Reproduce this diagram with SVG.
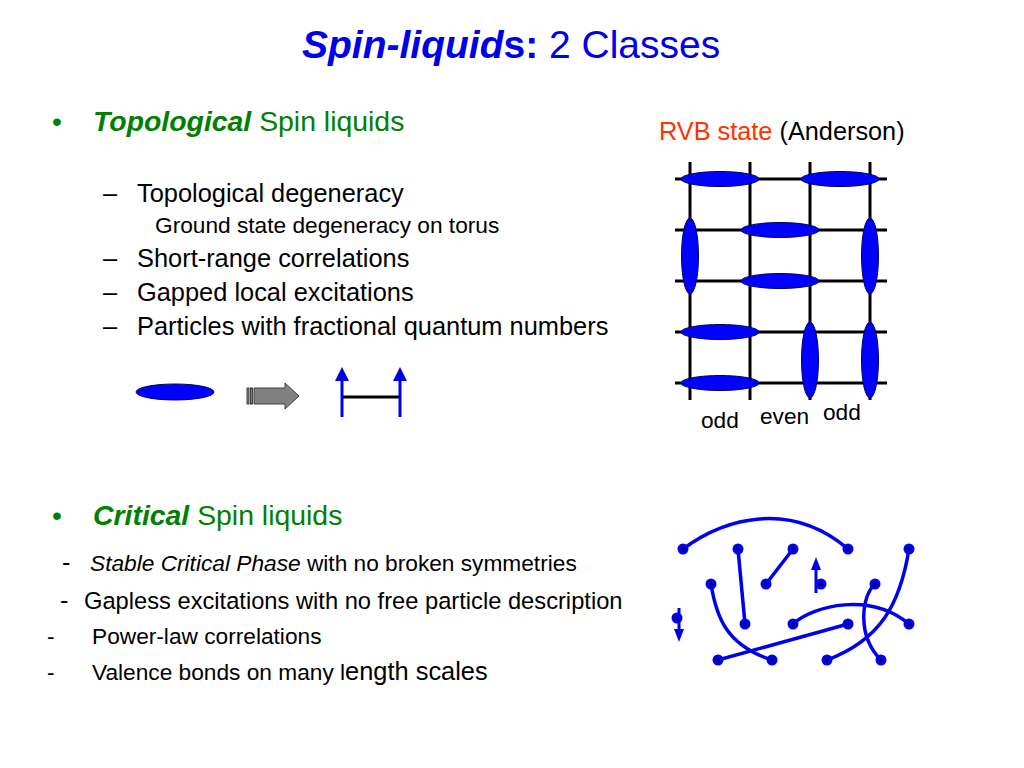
<svg xmlns="http://www.w3.org/2000/svg" width="1024" height="768" viewBox="0 0 1024 768">
<style>
text{font-family:"Liberation Sans",Arial,sans-serif}
.t{fill:#0000ee}
.g{fill:#008000}
.k{fill:#000}
.l1{font-size:28.4px}
.l2{font-size:25.4px}
.l3{font-size:22.7px}
.bi{font-weight:bold;font-style:italic}
.grid{stroke:#000;stroke-width:3;fill:none}
.dimer{fill:#0000ff;stroke:#000066;stroke-width:1}
.bond{stroke:#0000ee;stroke-width:3.5;fill:none;stroke-linecap:round}
.site{fill:#0000ee}
.core{fill:#000}
.spin{stroke:#0000ee;stroke-width:3;fill:none}
.head{fill:#0000ee}
</style>
<rect width="1024" height="768" fill="#fff"/>

<g id="title">
<text x="302" y="58" font-size="39" class="t"><tspan class="bi">Spin-liquid</tspan><tspan font-weight="bold">s:</tspan> 2 Classes</text>
</g>

<g id="topological-text">
<text x="52" y="131" class="l1 g">•</text>
<text x="93" y="131" class="l1 g"><tspan class="bi">Topological</tspan> Spin liquids</text>
<text x="103" y="202" class="l2 k">–</text>
<text x="137" y="202" class="l2 k">Topological degeneracy</text>
<text x="155" y="233" class="l3 k">Ground state degeneracy on torus</text>
<text x="103" y="267" class="l2 k">–</text>
<text x="137" y="267" class="l2 k">Short-range correlations</text>
<text x="103" y="301" class="l2 k">–</text>
<text x="137" y="301" class="l2 k">Gapped local excitations</text>
<text x="103" y="335" class="l2 k">–</text>
<text x="137" y="335" class="l2 k">Particles with fractional quantum numbers</text>
</g>

<g id="dimer-to-singlet">
<ellipse cx="175" cy="392" rx="39" ry="8" class="dimer"/>
<g id="gray-arrow" fill="#808080" stroke="#404040" stroke-width="1">
<rect x="247" y="388" width="2" height="16"/>
<rect x="250.5" y="388" width="2" height="16"/>
<path d="M254,388 H285 V383 L299,396 L285,409 V404 H254 Z"/>
</g>
<line x1="342" y1="397" x2="400" y2="397" stroke="#000" stroke-width="3"/>
<line x1="342" y1="417" x2="342" y2="378" class="spin"/>
<polygon points="342,367 335,381 349,381" class="head"/>
<line x1="400" y1="417" x2="400" y2="378" class="spin"/>
<polygon points="400,367 393,381 407,381" class="head"/>
</g>

<g id="rvb">
<text x="659" y="140" font-size="25.3"><tspan fill="#ff3300">RVB state</tspan> <tspan fill="#000">(Anderson)</tspan></text>
<g id="lattice" class="grid">
<line x1="675" y1="179" x2="887" y2="179"/>
<line x1="675" y1="230" x2="887" y2="230"/>
<line x1="675" y1="281" x2="887" y2="281"/>
<line x1="675" y1="332" x2="887" y2="332"/>
<line x1="675" y1="383" x2="887" y2="383"/>
<line x1="690" y1="162" x2="690" y2="400"/>
<line x1="750" y1="162" x2="750" y2="400"/>
<line x1="810" y1="162" x2="810" y2="400"/>
<line x1="870" y1="162" x2="870" y2="400"/>
</g>
<g id="dimers">
<ellipse cx="720" cy="179" rx="39" ry="7.5" class="dimer"/>
<ellipse cx="840" cy="179" rx="39" ry="7.5" class="dimer"/>
<ellipse cx="780" cy="230" rx="39" ry="7.5" class="dimer"/>
<ellipse cx="780" cy="281" rx="39" ry="7.5" class="dimer"/>
<ellipse cx="720" cy="332" rx="39" ry="7.5" class="dimer"/>
<ellipse cx="720" cy="383" rx="39" ry="7.5" class="dimer"/>
<ellipse cx="690" cy="256" rx="8.5" ry="38" class="dimer"/>
<ellipse cx="870" cy="256" rx="8.5" ry="38" class="dimer"/>
<ellipse cx="810" cy="360" rx="8.5" ry="38" class="dimer"/>
<ellipse cx="870" cy="360" rx="8.5" ry="38" class="dimer"/>
</g>
<text x="701" y="428" class="l3 k">odd</text>
<text x="760" y="424" class="l3 k">even</text>
<text x="823" y="420" class="l3 k">odd</text>
</g>

<g id="critical-text">
<text x="52" y="525" class="l1 g">•</text>
<text x="93" y="525" class="l1 g"><tspan class="bi">Critical</tspan> Spin liquids</text>
<text x="62" y="571" class="l2 k">-</text>
<text x="90" y="571" class="l3 k"><tspan font-style="italic">Stable Critical Phase</tspan> with no broken symmetries</text>
<text x="60" y="609" class="l2 k">-</text>
<text x="84" y="609" font-size="23.7" class="k">Gapless excitations with no free particle description</text>
<text x="47" y="644" class="l3 k">-</text>
<text x="92" y="644" class="l3 k">Power-law correlations</text>
<text x="47" y="680" class="l3 k">-</text>
<text x="92" y="680" class="l3 k">Valence bonds on many l<tspan font-size="25.4">ength scales</tspan></text>
</g>

<g id="connectors">
<path class="bond" d="M683,549 C725,518 790,500 848,549"/>
<path class="bond" d="M738,549 L745,624"/>
<path class="bond" d="M793,549 L766,584"/>
<path class="bond" d="M711,584 C716,615 725,645 772,660"/>
<path class="bond" d="M718,660 L848,624"/>
<path class="bond" d="M793,624 C815,605 870,592 909,624"/>
<path class="bond" d="M909,549 C900,605 880,640 827,660"/>
<path class="bond" d="M875,584 C862,595 856,635 881,660"/>
</g>

<g id="critical-spins">
<line x1="816" y1="593" x2="816" y2="567" class="spin"/>
<polygon points="816,557 811,570 821,570" class="head"/>
<line x1="679" y1="608" x2="679" y2="632" class="spin"/>
<polygon points="679,642 674,629 684,629" class="head"/>
</g>

<g id="sites">
<g class="site">
<circle cx="683" cy="549" r="5.5"/><circle cx="738" cy="549" r="5.5"/><circle cx="793" cy="549" r="5.5"/><circle cx="848" cy="549" r="5.5"/><circle cx="909" cy="549" r="5.5"/>
<circle cx="711" cy="584" r="5.5"/><circle cx="766" cy="584" r="5.5"/><circle cx="821" cy="584" r="5.5"/><circle cx="875" cy="584" r="5.5"/>
<circle cx="677" cy="618" r="5.5"/><circle cx="745" cy="624" r="5.5"/><circle cx="793" cy="624" r="5.5"/><circle cx="848" cy="624" r="5.5"/><circle cx="909" cy="624" r="5.5"/>
<circle cx="718" cy="660" r="5.5"/><circle cx="772" cy="660" r="5.5"/><circle cx="827" cy="660" r="5.5"/><circle cx="881" cy="660" r="5.5"/>
</g>
<g class="core">
<circle cx="683" cy="549" r="1.5"/><circle cx="738" cy="549" r="1.5"/><circle cx="793" cy="549" r="1.5"/><circle cx="848" cy="549" r="1.5"/><circle cx="909" cy="549" r="1.5"/>
<circle cx="711" cy="584" r="1.5"/><circle cx="766" cy="584" r="1.5"/><circle cx="821" cy="584" r="1.5"/><circle cx="875" cy="584" r="1.5"/>
<circle cx="677" cy="618" r="1.5"/><circle cx="745" cy="624" r="1.5"/><circle cx="793" cy="624" r="1.5"/><circle cx="848" cy="624" r="1.5"/><circle cx="909" cy="624" r="1.5"/>
<circle cx="718" cy="660" r="1.5"/><circle cx="772" cy="660" r="1.5"/><circle cx="827" cy="660" r="1.5"/><circle cx="881" cy="660" r="1.5"/>
</g>
</g>
</svg>
